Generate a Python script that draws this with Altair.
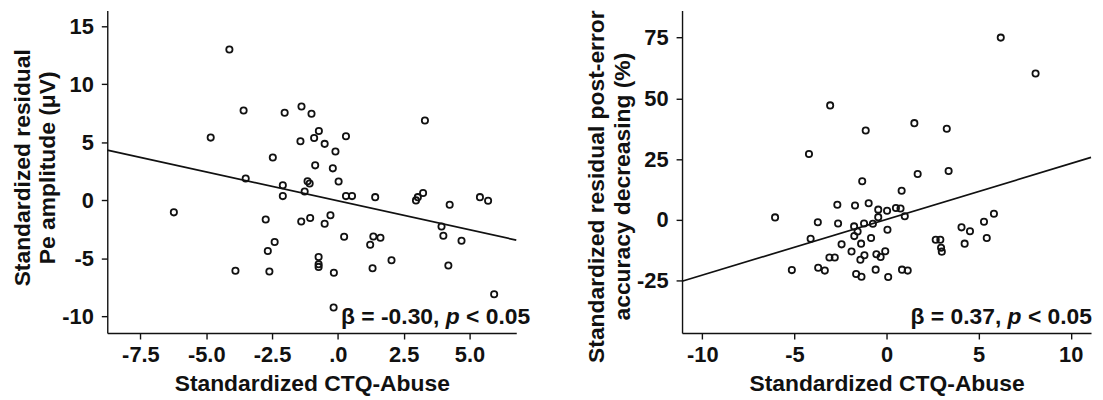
import altair as alt
import pandas as pd

# ---------------- Left panel: Pe amplitude ----------------
pe_x = [-4.12, -3.58, -4.83, -3.50, -6.23, -3.89, -2.02, -2.47, -2.09, -2.09,
        -2.74, -2.40, -2.66, -2.60, -1.38, -1.00, -1.42, -0.72, -0.90, -0.50,
        -0.09, 0.31, -0.86, -0.19, -1.15, -1.07, 0.03, -1.26, 0.31, 0.54,
        -1.39, -1.05, -0.28, -0.50, 0.24, -0.73, -0.73, -0.73, -0.15, -0.16,
        1.42, 1.35, 1.62, 1.23, 1.32, 2.04, 3.31, 2.97, 3.04, 3.24,
        4.25, 3.94, 4.01, 4.70, 4.20, 5.40, 5.71, 5.94]
pe_y = [13.0, 7.75, 5.41, 1.88, -1.03, -6.07, 7.55, 3.70, 1.31, 0.37,
        -1.65, -3.59, -4.36, -6.13, 8.09, 7.46, 5.10, 5.98, 5.38, 4.87,
        4.22, 5.53, 3.02, 2.76, 1.65, 1.45, 1.62, 0.77, 0.37, 0.37,
        -1.82, -1.51, -1.28, -2.02, -3.13, -4.87, -5.50, -5.73, -6.24, -9.23,
        0.28, -3.11, -3.22, -3.82, -5.84, -5.16, 6.89, 0.00, 0.28, 0.63,
        -0.37, -2.25, -3.05, -3.48, -5.61, 0.28, -0.03, -8.09]
pe_fit_x = [-8.76, 6.78]
pe_fit_y = [4.33, -3.42]

# ---------------- Right panel: post-error accuracy ----------------
acc_x = [6.20, 8.09, -3.06, 1.51, 3.27, -1.13, -4.21, 3.37, 1.69, -1.32,
         0.82, -2.67, -1.71, -0.97, -0.45, 0.03, 0.51, 0.76, 0.99, -6.05,
         -3.73, -2.63, -1.22, -0.45, -0.74, -1.76, -1.57, 0.05, -1.75, -0.84,
         -4.12, -1.38, -2.44, -1.90, -0.07, -1.20, -0.55, -0.32, -3.10, -2.81,
         -1.42, -5.14, -3.71, -3.35, -1.65, -1.36, -0.59, 0.09, 0.84, 1.15,
         2.67, 2.92, 2.96, 3.00, 4.07, 4.53, 4.24, 5.29, 5.83, 5.44]
acc_y = [75.0, 60.2, 47.1, 39.8, 37.5, 36.8, 27.1, 20.1, 18.9, 15.9,
         12.0, 6.2, 5.9, 6.8, 4.2, 3.7, 4.9, 4.7, 1.5, 1.0,
         -1.0, -1.5, -1.5, 1.1, -1.6, -2.7, -4.8, -4.1, -6.7, -7.5,
         -7.8, -9.8, -10.1, -13.0, -12.9, -14.6, -14.2, -15.3, -15.5, -15.5,
         -16.4, -20.7, -19.7, -20.9, -22.3, -23.4, -20.5, -23.5, -20.5, -20.9,
         -8.2, -8.2, -11.5, -13.1, -3.1, -4.7, -9.8, -0.8, 2.5, -7.5]
acc_fit_x = [-11.1, 11.1]
acc_fit_y = [-25.3, 25.7]

x_title = "Standardized CTQ-Abuse"
pe_title = ["Standardized residual", "Pe amplitude (\u03bcV)"]
acc_title = ["Standardized residual post-error", "accuracy decreasing (%)"]
pe_beta = "\u03b2 = -0.30,"
acc_beta = "\u03b2 = 0.37,"

pe_xticks = [-7.5, -5.0, -2.5, 0.0, 2.5, 5.0]
pe_yticks = [-10, -5, 0, 5, 10, 15]
acc_xticks = [-10, -5, 0, 5, 10]
acc_yticks = [-25, 0, 25, 50, 75]

FONT = "Liberation Sans"
INK = "#111111"
W, H = 412, 325
FS = 23

INT_LABEL = ("datum.value < 0 ? '-' + format(-datum.value, 'd') : "
             "format(datum.value, 'd')")
DEC_LABEL = ("datum.value == 0 ? '.0' : (datum.value < 0 ? '-' + "
             "format(-datum.value, '.1f') : format(datum.value, '.1f'))")


def panel(px, py, fx, fy, xdom, ydom, xticks, yticks, ytitle, xlabelexpr,
          beta, right_shift, title_y):
    pts = pd.DataFrame({"x": px, "y": py})
    fit = pd.DataFrame({"x": fx, "y": fy})
    one = pd.DataFrame({"k": [0]})
    xs = alt.Scale(domain=xdom, nice=False, zero=False)
    ys = alt.Scale(domain=ydom, nice=False, zero=False)
    xax = alt.Axis(values=xticks, labelExpr=xlabelexpr, title=x_title,
                   labelPadding=6, titlePadding=7, titleFontSize=23)
    yax = alt.Axis(values=yticks, labelExpr=INT_LABEL, title=ytitle,
                   labelPadding=8, titlePadding=2, titleFontSize=23,
                   titleY=title_y)
    points = alt.Chart(pts).mark_point(
        shape="circle", filled=False, color=INK, size=40, strokeWidth=1.8,
        opacity=1
    ).encode(x=alt.X("x:Q", scale=xs, axis=xax),
             y=alt.Y("y:Q", scale=ys, axis=yax))
    line = alt.Chart(fit).mark_line(color=INK, strokeWidth=1.7).encode(
        x=alt.X("x:Q", scale=xs), y=alt.Y("y:Q", scale=ys))
    R = W + right_shift
    base_y = H - 9.5
    txt = dict(font=FONT, fontSize=FS, fontWeight="bold", color=INK,
               align="right", baseline="alphabetic")
    w_tail = 2.808 * FS
    w_sp = 0.278 * FS
    w_p = 0.611 * FS
    t1 = alt.Chart(one).mark_text(text="< 0.05", **txt).encode(
        x=alt.value(R), y=alt.value(base_y))
    t2 = alt.Chart(one).mark_text(text="p", fontStyle="italic", **txt).encode(
        x=alt.value(R - w_tail - w_sp), y=alt.value(base_y))
    t3 = alt.Chart(one).mark_text(text=beta, **txt).encode(
        x=alt.value(R - w_tail - 2 * w_sp - w_p), y=alt.value(base_y))
    return alt.layer(line, points, t1, t2, t3).properties(width=W, height=H)


left = panel(pe_x, pe_y, pe_fit_x, pe_fit_y, [-8.76, 6.78], [-11.43, 16.37],
             pe_xticks, pe_yticks, pe_title, DEC_LABEL, pe_beta, 14, 158)
right = panel(acc_x, acc_y, acc_fit_x, acc_fit_y, [-11.1, 11.1], [-46.6, 86.2],
              acc_xticks, acc_yticks, acc_title, INT_LABEL, acc_beta, 1, 177)

chart = alt.hconcat(left, right, spacing=167, bounds="flush").properties(
    padding={"left": 3, "top": 0, "right": 0, "bottom": 0}
).configure_view(stroke=None).configure_axis(
    grid=False,
    domainColor=INK, domainWidth=1.4,
    tickColor=INK, tickWidth=1.4, tickSize=6,
    labelFont=FONT, labelFontSize=22, labelFontWeight="bold", labelColor=INK,
    titleFont=FONT, titleFontWeight="bold", titleColor=INK,
    titleLineHeight=26,
)

chart.save("out.html", embed_options={"renderer": "svg", "actions": False})
